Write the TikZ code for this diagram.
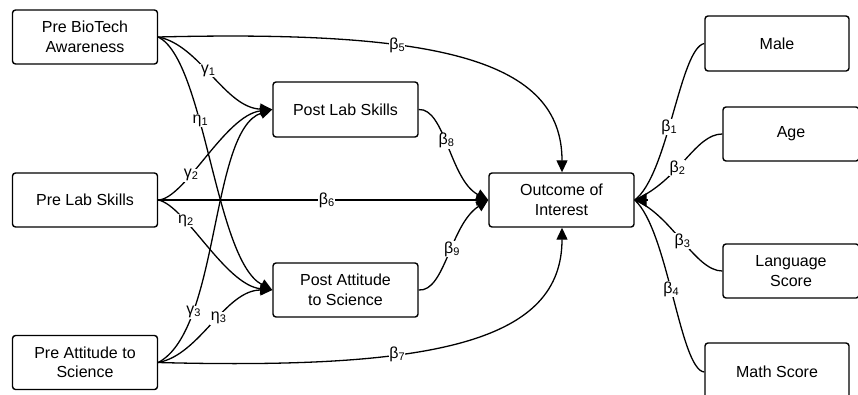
\documentclass[tikz,border=0pt]{standalone}
\usepackage{fontspec}
\setmainfont{Liberation Sans}
\usetikzlibrary{arrows.meta}
\newcommand\sublab[2]{{\fontsize{16}{16}\selectfont #1}\raisebox{-2pt}{\fontsize{11}{11}\selectfont #2}}
\tikzset{
  box/.style={draw, line width=1.4pt, rounded corners=3pt, align=center,
    font=\fontsize{16}{19.5}\selectfont, inner sep=0pt},
  conn/.style={line width=1.3pt, -{Triangle[length=12pt,width=11pt]}},
  plain/.style={line width=1.3pt},
  lab/.style={fill=white, inner sep=0.5pt}
}
\begin{document}
\begin{tikzpicture}[x=1pt,y=-1pt]
\useasboundingbox (0,0) rectangle (858,394);
% boxes
\node[box, minimum width=145pt, minimum height=54pt] (pba) at (85,37) {Pre BioTech\\Awareness};
\node[box, minimum width=145pt, minimum height=54pt] (pls) at (85,200) {Pre Lab Skills};
\node[box, minimum width=145pt, minimum height=54pt] (pas) at (85,362.5) {Pre Attitude to\\Science};
\node[box, minimum width=145pt, minimum height=55pt] (pols) at (345.5,109.5) {Post Lab Skills};
\node[box, minimum width=145pt, minimum height=54pt] (poas) at (345.5,290) {Post Attitude\\to Science};
\node[box, minimum width=145pt, minimum height=54pt] (out) at (561.5,200) {Outcome of\\Interest};
\node[box, minimum width=144pt, minimum height=55pt] (male) at (777,43.5) {Male};
\node[box, minimum width=136pt, minimum height=54pt] (age) at (791,134) {Age};
\node[box, minimum width=136pt, minimum height=54pt] (lang) at (791,271) {Language\\Score};
\node[box, minimum width=144pt, minimum height=58pt] (math) at (777,372) {Math Score};
% anchors
\coordinate (a) at (pba.east);
\coordinate (b) at (pls.east);
\coordinate (c) at (pas.east);
\coordinate (pl) at (pols.west);
\coordinate (pa) at (poas.west);
\coordinate (ol) at (out.west);
\coordinate (or) at (out.east);
\coordinate (ot) at ([xshift=0.5pt]out.north);
\coordinate (ob) at ([xshift=0.5pt]out.south);
% left connectors
\draw[conn] (a) .. controls (440,30) and (562,60) .. (ot)
  node[lab, pos=0.35] {\sublab{β}{5}};
\draw[conn] (a) .. controls (200,45) and (225,108) .. (pl)
  node[lab, pos=0.45] {\sublab{γ}{1}};
\draw[conn] (a) .. controls (205,60) and (215,260) .. (pa)
  node[lab, pos=0.38] {\sublab{η}{1}};
\draw[conn] (b) .. controls (185,199) and (225,115) .. (pl)
  node[lab, pos=0.35] {\sublab{γ}{2}};
\draw[conn] (b) -- (ol) node[lab, pos=0.51] {\sublab{β}{6}};
\draw[conn] (b) .. controls (185,205) and (225,285) .. (pa)
  node[lab, pos=0.3] {\sublab{η}{2}};
\draw[conn] (c) .. controls (220,330) and (210,130) .. (pl)
  node[lab, pos=0.25] {\sublab{γ}{3}};
\draw[conn] (c) .. controls (200,355) and (225,290) .. (pa)
  node[lab, pos=0.55] {\sublab{η}{3}};
\draw[conn] (c) .. controls (440,370) and (562,340) .. (ob)
  node[lab, pos=0.35] {\sublab{β}{7}};
\draw[conn] (pols.east) .. controls (445,108) and (450,180) .. (ol)
  node[lab, pos=0.45] {\sublab{β}{8}};
\draw[conn] (poas.east) .. controls (445,292) and (450,225) .. (ol)
  node[lab, pos=0.55] {\sublab{β}{9}};
% right connectors
\draw[plain] (male.west) .. controls (680,48) and (668,175) .. (or)
  node[lab, pos=0.56] {\sublab{β}{1}};
\draw[plain] (age.west) .. controls (695,134) and (680,180) .. (or)
  node[lab, pos=0.6] {\sublab{β}{2}};
\draw[plain] (lang.west) .. controls (695,271) and (672,215) .. (or)
  node[lab, pos=0.5] {\sublab{β}{3}};
\draw[plain] (math.west) .. controls (680,370) and (668,230) .. (or)
  node[lab, pos=0.53] {\sublab{β}{4}};
\draw[line width=1.3pt, -{Triangle[length=12pt,width=14pt]}] ([xshift=13pt]or) -- (or);
\end{tikzpicture}
\end{document}
